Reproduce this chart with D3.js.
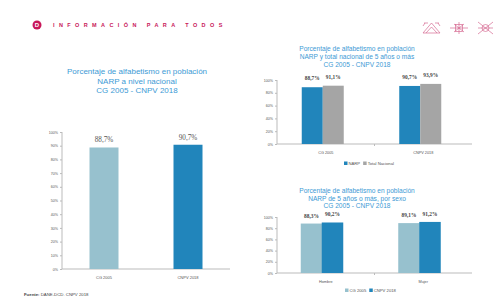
<!DOCTYPE html>
<html>
<head>
<meta charset="utf-8">
<script src="https://cdn.jsdelivr.net/npm/d3@7"></script>
<style>
  body { margin: 0; background: #fff; }
  svg { display: block; font-family: "Liberation Sans", Arial, sans-serif; }
</style>
</head>
<body>
<svg id="chart-svg" width="497" height="307"></svg>
<script>
// Datos
const years = ["CG 2005", "CNPV 2018"];
const narpValues = [88.7, 90.7];
const totalValues = [91.1, 93.9];
const sexCategories = ["Hombre", "Mujer"];
const sex2005 = [88.3, 89.1];
const sex2018 = [90.2, 91.2];
const leftTicks = [0, 10, 20, 30, 40, 50, 60, 70, 80, 90, 100];
const rightTicks = [0, 20, 40, 60, 80, 100];

const lightBlue = "#97c1ce";
const darkBlue = "#2185bb";
const gray = "#a5a5a5";
const titleColor = "#3d9ad5";
const pink = "#c8175a";

const svg = d3.select("#chart-svg");
const fmt = (v) => v.toFixed(1).replace(".", ",") + "%";

// encabezado
svg.append("circle").attr("cx", 37).attr("cy", 25).attr("r", 4.5).attr("fill", pink);
svg.append("text").attr("x", 37).attr("y", 27.3).attr("text-anchor", "middle")
  .attr("font-size", 6).attr("font-weight", "bold").attr("fill", "#fff").text("D");
svg.append("text").attr("x", 53).attr("y", 27)
  .attr("font-size", 5.5).attr("font-weight", "bold").attr("letter-spacing", 4.4)
  .attr("fill", pink).text("INFORMACIÓN PARA TODOS");

// iconos decorativos
const icons = svg.append("g").attr("stroke", "#d66a92").attr("fill", "none").attr("stroke-width", 0.7);
icons.append("path").attr("d", "M423,33 L431.5,23 L440,33 Z M426,33 L431.5,27 L437,33 M424,23 H428 M435,23 H439 M423,26 L425,23 M440,26 L438,23");
icons.append("path").attr("d", "M459,22 L459,34 M450,28 L468,28 M454,24 L464,32 M464,24 L454,32");
icons.append("rect").attr("x", 455.5).attr("y", 24.5).attr("width", 7).attr("height", 7);
icons.append("path").attr("d", "M478,22 L493,34 M493,22 L478,34 M478,28 H493");
icons.append("circle").attr("cx", 485.5).attr("cy", 28).attr("r", 3.5);

function title(lines, cx, y0, dy, size) {
  const t = svg.append("text").attr("text-anchor", "middle").attr("fill", titleColor)
    .attr("font-size", size).attr("font-family", "'Liberation Sans Narrow', 'Liberation Sans', Arial, sans-serif");
  lines.forEach((l, i) => t.append("tspan").attr("x", cx).attr("y", y0 + i * dy).text(l));
}

function drawChart(o) {
  const g = svg.append("g");
  const x = d3.scaleBand().domain(o.categories).range([o.left, o.right]);
  const y = d3.scaleLinear().domain([0, 100]).range([o.bottom, o.top]);

  // eje y
  const ya = g.append("g").attr("transform", `translate(${o.left},0)`)
    .call(d3.axisLeft(y).tickValues(o.ticks).tickSize(2).tickFormat((d) => d + "%"));
  ya.select(".domain").attr("stroke", "#bbb").attr("d", `M0,${o.bottom}V${o.top}`);
  ya.selectAll(".tick line").attr("stroke", "#bbb");
  ya.selectAll(".tick text").attr("font-size", o.tickSize).attr("fill", "#555").attr("x", -4);

  // eje x
  const xa = g.append("g").attr("transform", `translate(0,${o.bottom})`)
    .call(d3.axisBottom(x).tickSize(0));
  xa.select(".domain").attr("stroke", "#bbb").attr("d", `M${o.left},0H${o.right}`);
  xa.selectAll(".tick text").attr("font-size", o.catSize).attr("fill", "#555").attr("dy", o.catDy);
  // separadores de categoría
  g.selectAll(".sep").data(o.categories.slice(1)).enter().append("line")
    .attr("x1", (d) => x(d)).attr("x2", (d) => x(d))
    .attr("y1", o.bottom).attr("y2", o.bottom + 2).attr("stroke", "#bbb");

  o.series.forEach((s, si) => {
    const bx = (i) => x(o.categories[i]) + x.bandwidth() / 2 + o.offsets[si];
    g.selectAll(null).data(s.values).enter().append("rect")
      .attr("x", (d, i) => bx(i))
      .attr("y", (d) => y(d))
      .attr("width", o.barW)
      .attr("height", (d) => o.bottom - y(d))
      .attr("fill", s.color);
    g.selectAll(null).data(s.values).enter().append("text")
      .attr("x", (d, i) => bx(i) + o.barW / 2)
      .attr("y", (d) => y(d) - o.labelGap)
      .attr("text-anchor", "middle")
      .attr("font-family", "'Liberation Serif', 'DejaVu Serif', serif")
      .attr("font-weight", o.labelBold ? "bold" : "normal")
      .attr("font-size", o.labelSize).attr("fill", "#444")
      .text(fmt);
  });

  if (o.legend) {
    const lg = g.append("g").attr("font-size", 4.2).attr("fill", "#555");
    let lx = o.legend.x;
    o.series.forEach((s) => {
      lg.append("rect").attr("x", lx).attr("y", o.legend.y - 2.5).attr("width", 3.5).attr("height", 3.5).attr("fill", s.color);
      const t = lg.append("text").attr("x", lx + 4.5).attr("y", o.legend.y + 1).text(s.name);
      lx += 4.5 + t.node().getComputedTextLength() + 3;
    });
  }
}

// gráfico izquierdo
title(["Porcentaje de alfabetismo en población", "NARP a nivel nacional", "CG 2005 - CNPV 2018"], 137, 74, 9.5, 8);
const gl = svg.append("g");
{
  const x = d3.scaleBand().domain(years).range([62, 230]);
  const y = d3.scaleLinear().domain([0, 100]).range([269, 132]);
  const ya = gl.append("g").attr("transform", "translate(62,0)")
    .call(d3.axisLeft(y).tickValues(leftTicks).tickSize(2).tickFormat((d) => d + "%"));
  ya.select(".domain").attr("stroke", "#bbb").attr("d", "M0,269V132");
  ya.selectAll(".tick line").attr("stroke", "#bbb");
  ya.selectAll(".tick text").attr("font-size", 3.6).attr("fill", "#555").attr("x", -4);
  const xa = gl.append("g").attr("transform", "translate(0,269)").call(d3.axisBottom(x).tickSize(0));
  xa.select(".domain").attr("stroke", "#bbb").attr("d", "M62,0H230");
  xa.selectAll(".tick text").attr("font-size", 4).attr("fill", "#555").attr("dy", 6.5);
  gl.selectAll(null).data(narpValues).enter().append("rect")
    .attr("x", (d, i) => x(years[i]) + x.bandwidth() / 2 - 14.5)
    .attr("y", (d) => y(d)).attr("width", 29).attr("height", (d) => 269 - y(d))
    .attr("fill", (d, i) => (i === 0 ? lightBlue : darkBlue));
  gl.selectAll(null).data(narpValues).enter().append("text")
    .attr("x", (d, i) => x(years[i]) + x.bandwidth() / 2)
    .attr("y", (d) => y(d) - 5)
    .attr("text-anchor", "middle").attr("font-size", 7.2).attr("fill", "#555")
    .attr("font-family", "'Liberation Serif', 'DejaVu Serif', serif")
    .text(fmt);
}

// gráfico superior derecho
title(["Porcentaje de alfabetismo en población", "NARP y total nacional de 5 años o más", "CG 2005 - CNPV 2018"], 357, 51, 8, 6.6);
drawChart({
  categories: years, left: 277, right: 472, top: 80, bottom: 144,
  ticks: rightTicks, tickSize: 3.6, catSize: 3.8, catDy: 6.5,
  series: [
    { name: "NARP", values: narpValues, color: darkBlue },
    { name: "Total Nacional", values: totalValues, color: gray },
  ],
  offsets: [-24, -3], barW: 21, labelSize: 5.4, labelBold: true, labelGap: 7,
  legend: { x: 344, y: 164 },
});

// gráfico inferior derecho
title(["Porcentaje de alfabetismo en población", "NARP de 5 años o más, por sexo", "CG 2005 - CNPV 2018"], 357, 193, 7.5, 6.6);
drawChart({
  categories: sexCategories, left: 277, right: 472, top: 217, bottom: 273,
  ticks: rightTicks, tickSize: 3.6, catSize: 3.8, catDy: 6.5,
  series: [
    { name: "CG 2005", values: sex2005, color: lightBlue },
    { name: "CNPV 2018", values: sex2018, color: darkBlue },
  ],
  offsets: [-25, -4], barW: 21.5, labelSize: 5.4, labelBold: true, labelGap: 6,
  legend: { x: 345, y: 291 },
});

// fuente
const src = svg.append("text").attr("x", 24).attr("y", 296).attr("font-size", 4.3).attr("fill", "#444");
src.append("tspan").attr("font-weight", "bold").text("Fuente:");
src.append("tspan").text(" DANE-DCD. CNPV 2018");
</script>
</body>
</html>
